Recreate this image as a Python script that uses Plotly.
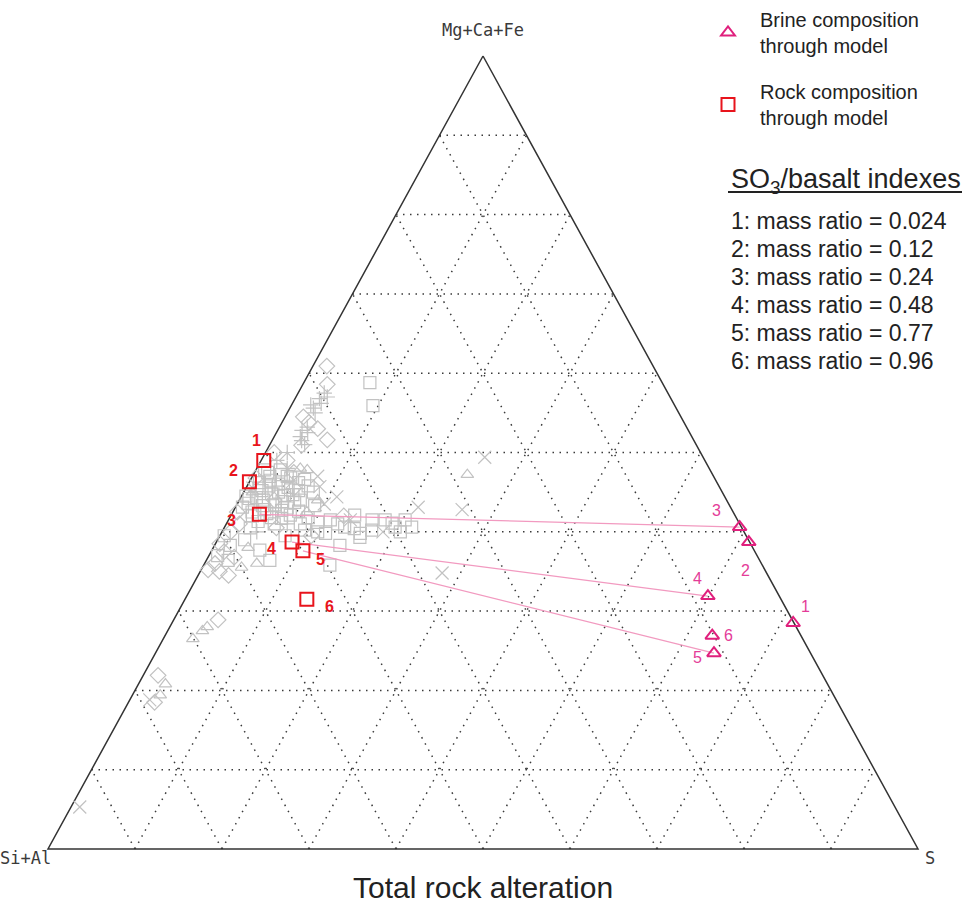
import plotly.graph_objects as go

# ---------------- data (fractions: Mg+Ca+Fe = top apex, S = right apex, Si+Al = remainder) -------------
rock_ids = ["1", "2", "3", "4", "5", "6"]
rock_mgcafe = [0.490, 0.463, 0.422, 0.387, 0.376, 0.315]
rock_s = [0.003, 0.000, 0.032, 0.087, 0.105, 0.140]

brine_ids = ["1", "2", "3", "4", "5", "6"]
brine_mgcafe = [0.285, 0.387, 0.406, 0.319, 0.247, 0.269]
brine_s = [0.714, 0.612, 0.592, 0.599, 0.642, 0.629]

linked_ids = ["3", "4", "5"]

mass_ratios = ["0.024", "0.12", "0.24", "0.48", "0.77", "0.96"]

# literature / background analyses (grey)
bg_sq_mgcafe = [0.588, 0.559, 0.478, 0.470, 0.465, 0.460, 0.455, 0.450, 0.446, 0.440, 0.436, 0.434, 0.430,
                0.425, 0.421, 0.440, 0.478, 0.462, 0.452, 0.428, 0.445, 0.418,
                0.475, 0.472, 0.468, 0.462, 0.458, 0.456, 0.452, 0.448, 0.447, 0.443, 0.438, 0.437,
                0.433, 0.431, 0.427, 0.423, 0.420, 0.417, 0.413, 0.466, 0.458, 0.450, 0.426, 0.433,
                0.418, 0.410, 0.405, 0.470, 0.442,
                0.415, 0.406, 0.421, 0.402, 0.415, 0.406, 0.415, 0.406, 0.393, 0.412, 0.402, 0.383, 0.415,
                0.398, 0.410, 0.395, 0.400, 0.410, 0.404, 0.398, 0.411, 0.400,
                0.383, 0.390, 0.377, 0.364, 0.364, 0.358, 0.395, 0.370]
bg_sq_s = [0.076, 0.094, 0.010, 0.020, 0.023, 0.035, 0.015, 0.040, 0.049, 0.028, 0.012, 0.044, 0.060,
           0.022, 0.068, 0.070, 0.028, 0.057, 0.062, 0.035, 0.005, 0.048,
           0.015, 0.032, 0.045, 0.012, 0.025, 0.048, 0.020, 0.033, 0.058, 0.018, 0.050, 0.065,
           0.030, 0.008, 0.055, 0.040, 0.025, 0.060, 0.035, 0.062, 0.070, 0.080, 0.075, 0.090,
           0.090, 0.055, 0.030, 0.040, 0.010,
           0.117, 0.138, 0.142, 0.171, 0.180, 0.196, 0.203, 0.215, 0.162, 0.104, 0.094, 0.144, 0.165,
           0.120, 0.085, 0.075, 0.110, 0.128, 0.150, 0.160, 0.190, 0.205,
           0.018, 0.031, 0.055, 0.025, 0.073, 0.145, 0.005, 0.010]

bg_di_mgcafe = [0.609, 0.586, 0.545, 0.538, 0.516, 0.509, 0.530, 0.500, 0.490, 0.475, 0.468, 0.455, 0.440,
                0.425, 0.410, 0.400, 0.385, 0.375, 0.368, 0.360, 0.352, 0.350, 0.345, 0.289, 0.219,
                0.185, 0.405, 0.395, 0.420]
bg_di_s = [0.016, 0.028, 0.021, 0.031, 0.063, 0.037, 0.045, 0.010, 0.030, 0.045, 0.005, 0.055, 0.040,
           0.005, 0.015, 0.010, 0.005, 0.015, 0.030, 0.012, 0.008, 0.022, 0.035, 0.051, 0.017,
           0.030, 0.060, 0.105, 0.130]

bg_tr_mgcafe = [0.478, 0.472, 0.265, 0.275, 0.280, 0.208, 0.194, 0.480, 0.440, 0.380, 0.355, 0.450,
                0.425, 0.360]
bg_tr_s = [0.059, 0.246, 0.034, 0.040, 0.043, 0.031, 0.032, 0.050, 0.090, 0.040, 0.045, 0.010,
           0.085, 0.060]

bg_x_mgcafe = [0.457, 0.444, 0.431, 0.428, 0.494, 0.348, 0.053, 0.188, 0.470, 0.435, 0.455, 0.415, 0.400]
bg_x_s = [0.084, 0.110, 0.210, 0.262, 0.255, 0.279, 0.010, 0.023, 0.075, 0.100, 0.008, 0.140, 0.185]

bg_pl_mgcafe = [0.575, 0.568, 0.562, 0.556, 0.550, 0.570, 0.560, 0.532, 0.525, 0.520, 0.515, 0.528,
                0.510, 0.500, 0.490, 0.480, 0.465, 0.455, 0.445, 0.430, 0.410, 0.400]
bg_pl_s = [0.030, 0.028, 0.033, 0.027, 0.032, 0.036, 0.022, 0.032, 0.036, 0.030, 0.034, 0.028,
           0.040, 0.025, 0.018, 0.035, 0.045, 0.030, 0.060, 0.050, 0.070, 0.040]

grid_ticks = [0.1, 0.2, 0.3, 0.4, 0.5, 0.6, 0.7, 0.8, 0.9]
apex_labels = ["Mg+Ca+Fe", "Si+Al", "S"]


# ---------------- ternary -> cartesian projection ----------------
def proj(a_list, s_list):
    xs = [s + a / 2.0 for a, s in zip(a_list, s_list)]
    ys = list(a_list)
    return xs, ys


fig = go.Figure()

# grid lines (dotted)
gx, gy = [], []
for t in grid_ticks:
    x, y = proj([t, t], [0.0, 1.0 - t]); gx += x + [None]; gy += y + [None]
    x, y = proj([0.0, 1.0 - t], [t, t]); gx += x + [None]; gy += y + [None]
    x, y = proj([0.0, 1.0 - t], [1.0 - t, 0.0]); gx += x + [None]; gy += y + [None]
fig.add_trace(go.Scatter(x=gx, y=gy, mode="lines", hoverinfo="skip", showlegend=False,
                         line=dict(color="#3a3a3a", width=1.5, dash="1.5px,5.5px")))

# outer triangle
ox, oy = proj([1.0, 0.0, 0.0, 1.0], [0.0, 0.0, 1.0, 0.0])
fig.add_trace(go.Scatter(x=ox, y=oy, mode="lines", hoverinfo="skip", showlegend=False,
                         line=dict(color="#333333", width=1.5)))

# grey background data
grey = "#c2c2c2"
for a_l, s_l, sym, sz in [(bg_sq_mgcafe, bg_sq_s, "square-open", 12),
                          (bg_di_mgcafe, bg_di_s, "diamond-open", 12),
                          (bg_tr_mgcafe, bg_tr_s, "triangle-up-open", 11),
                          (bg_x_mgcafe, bg_x_s, "x-thin-open", 13),
                          (bg_pl_mgcafe, bg_pl_s, "cross-thin-open", 11)]:
    x, y = proj(a_l, s_l)
    fig.add_trace(go.Scatter(x=x, y=y, mode="markers", showlegend=False, hoverinfo="skip",
                             marker=dict(symbol=sym, size=sz, color=grey,
                                         line=dict(color=grey, width=1.2))))

# pink tie lines rock -> brine
lx, ly = [], []
for rid in linked_ids:
    i = rock_ids.index(rid)
    j = brine_ids.index(rid)
    x, y = proj([rock_mgcafe[i], brine_mgcafe[j]], [rock_s[i], brine_s[j]])
    lx += x + [None]; ly += y + [None]
fig.add_trace(go.Scatter(x=lx, y=ly, mode="lines", hoverinfo="skip", showlegend=False,
                         line=dict(color="#f29ac0", width=1.2)))

# model brine & rock
bx, by = proj(brine_mgcafe, brine_s)
fig.add_trace(go.Scatter(x=bx, y=by, mode="markers", name="Brine composition<br>through model",
                         legendgroup="b", text=brine_ids,
                         marker=dict(symbol="triangle-up-open", size=12, color="#e0207d",
                                     line=dict(color="#e0207d", width=2))))
rx, ry = proj(rock_mgcafe, rock_s)
fig.add_trace(go.Scatter(x=rx, y=ry, mode="markers", name="Rock composition<br>through model",
                         legendgroup="r", text=rock_ids,
                         marker=dict(symbol="square-open", size=13, color="#e8141c",
                                     line=dict(color="#e8141c", width=2))))

annotations = []
rock_off = [(-7, 20), (-16, 11), (-28, -6), (-21, -6), (18, -9), (23, -7)]
for k, rid in enumerate(rock_ids):
    annotations.append(dict(x=rx[k], y=ry[k], xref="x", yref="y", text="<b>" + rid + "</b>",
                            showarrow=False, xshift=rock_off[k][0], yshift=rock_off[k][1],
                            font=dict(family="Liberation Sans, Arial", size=16, color="#e8141c")))
brine_off = [(12, 16), (-3, -28), (-23, 17), (-10, 18), (-16, -4), (16, 0)]
for k, bid in enumerate(brine_ids):
    annotations.append(dict(x=bx[k], y=by[k], xref="x", yref="y", text=bid, showarrow=False,
                            xshift=brine_off[k][0], yshift=brine_off[k][1],
                            font=dict(family="Liberation Sans, Arial", size=16, color="#e43c98")))

# apex labels
apex_font = dict(family="DejaVu Sans Mono, monospace", size=17, color="#3a3a3a")
annotations.append(dict(x=0.5, y=1.0, xref="x", yref="y", text=apex_labels[0], showarrow=False,
                        yshift=26, font=apex_font))
annotations.append(dict(x=0.0, y=0.0, xref="x", yref="y", text=apex_labels[1], showarrow=False,
                        xshift=-23, yshift=-9, font=apex_font))
annotations.append(dict(x=1.0, y=0.0, xref="x", yref="y", text=apex_labels[2], showarrow=False,
                        xshift=12, yshift=-9, font=apex_font))

# bottom title
annotations.append(dict(x=0.5, y=0.0, xref="x", yref="y", text="Total rock alteration", showarrow=False,
                        yshift=-38, font=dict(family="Liberation Sans, Arial", size=30, color="#222222")))

# index box
W, H = 964.0, 908.0
annotations.append(dict(x=729 / W, y=1 - 162 / H, xref="paper", yref="paper", xanchor="left",
                        yanchor="top", showarrow=False, text="SO<sub>3</sub>/basalt indexes",
                        font=dict(family="Liberation Sans, Arial", size=27, color="#222222")))
for i, m in enumerate(mass_ratios):
    annotations.append(dict(x=729 / W, y=1 - (221 + 28 * i) / H, xref="paper", yref="paper",
                            xanchor="left", yanchor="middle", showarrow=False,
                            text=f"{i + 1}: mass ratio = {m}",
                            font=dict(family="Liberation Sans, Arial", size=23, color="#222222")))

shapes = [dict(type="line", xref="paper", yref="paper", x0=728 / W, x1=962 / W,
               y0=1 - 192 / H, y1=1 - 192 / H, line=dict(color="#222222", width=2))]

fig.update_layout(
    width=964, height=908, autosize=False,
    margin=dict(l=0, r=0, t=0, b=0, pad=0),
    paper_bgcolor="white", plot_bgcolor="white",
    xaxis=dict(range=[-48 / 870, (964 - 48) / 870], visible=False, fixedrange=True),
    yaxis=dict(range=[1 - 852 / 793, 1 + 56 / 793], visible=False, fixedrange=True),
    annotations=annotations, shapes=shapes,
    legend=dict(x=696 / W, y=1.0, xanchor="left", yanchor="top", bgcolor="rgba(0,0,0,0)",
                font=dict(family="Liberation Sans, Arial", size=20, color="#222222"),
                itemwidth=54, tracegroupgap=17),
    showlegend=True,
)

fig.write_html("out.html")
